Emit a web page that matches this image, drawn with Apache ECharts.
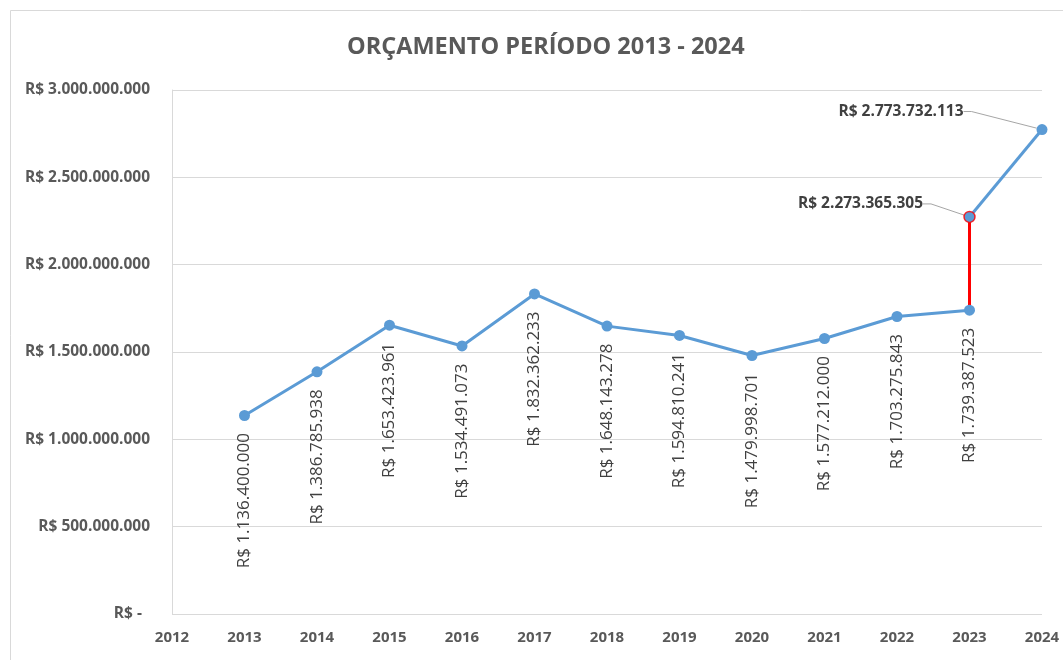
<!DOCTYPE html>
<html>
<head>
<meta charset="utf-8">
<script src="https://cdn.jsdelivr.net/npm/echarts@6/dist/echarts.min.js"></script>
<style>
  html, body { margin: 0; padding: 0; background: #fff; }
  #chart { width: 1063px; height: 660px; }
</style>
</head>
<body>
<div id="chart"></div>
<script>
// dados do orçamento
const years = [2013, 2014, 2015, 2016, 2017, 2018, 2019, 2020, 2021, 2022, 2023];
const values = [1136400000, 1386785938, 1653423961, 1534491073, 1832362233, 1648143278,
  1594810241, 1479998701, 1577212000, 1703275843, 1739387523];
const projYears = [2023, 2024];
const projValues = [2273365305, 2773732113];

const blue = "#5b9bd5";
const textGray = "#595959";

function fmt(v) {
  if (v === 0) return "R$ -  ";
  return "R$ " + String(Math.round(v)).replace(/\B(?=(\d{3})+(?!\d))/g, ".");
}

const chart = echarts.init(document.getElementById("chart"));
chart.setOption({
  animation: false,
  backgroundColor: "#fff",
  title: {
    text: "ORÇAMENTO PERÍODO 2013 - 2024",
    left: 342,
    top: 30,
    textStyle: {
      fontFamily: "Open Sans",
      fontWeight: "bold",
      fontSize: 23.5,
      color: textGray,
    },
  },
  graphic: [
    {
      type: "rect",
      shape: { x: 10.5, y: 10.5, width: 1100, height: 700 },
      style: { fill: "none", stroke: "#d9d9d9", lineWidth: 1 },
      silent: true,
    },
  ],
  grid: { left: 172, right: 21, top: 90, bottom: 46 },
  xAxis: {
    type: "value",
    min: 2012,
    max: 2024,
    interval: 1,
    axisLine: { show: false },
    axisTick: { show: false },
    splitLine: { show: false },
    axisLabel: {
      margin: 16,
      formatter: (v) => String(v),
      fontFamily: "Open Sans",
      fontWeight: "bold",
      fontSize: 15,
      color: textGray,
    },
  },
  yAxis: {
    type: "value",
    min: 0,
    max: 3000000000,
    interval: 500000000,
    axisLine: { show: true, lineStyle: { color: "#d9d9d9", width: 1 } },
    axisTick: { show: false },
    splitLine: { lineStyle: { color: "#d9d9d9", width: 1 } },
    axisLabel: {
      margin: 22,
      formatter: fmt,
      fontFamily: "Open Sans",
      fontWeight: "bold",
      fontSize: 15.5,
      color: textGray,
    },
  },
  series: [
    {
      // salto vermelho em 2023
      type: "line",
      data: [
        [projYears[0], values[values.length - 1]],
        [projYears[0], projValues[0]],
      ],
      symbol: "none",
      lineStyle: { color: "#ff0000", width: 3 },
      z: 2,
    },
    {
      type: "line",
      data: projYears.map((y, i) => [y, projValues[i]]),
      symbol: "circle",
      symbolSize: 11,
      lineStyle: { color: blue, width: 3 },
      itemStyle: { color: blue },
      label: {
        show: true,
        position: "left",
        distance: 5,
        formatter: (p) => fmt(p.value[1]),
        fontFamily: "Open Sans",
        fontWeight: "bold",
        fontSize: 15.5,
        color: "#404040",
      },
      labelLine: {
        show: true,
        length2: 8,
        lineStyle: { color: "#a6a6a6", width: 1 },
      },
      labelLayout: (params) => {
        if (params.dataIndex === 1) return { dx: -68, dy: -18 };
        return { dx: -36, dy: -13 };
      },
      z: 3,
    },
    {
      // marcador com contorno vermelho
      type: "scatter",
      data: [[projYears[0], projValues[0]]],
      symbol: "circle",
      symbolSize: 11,
      itemStyle: { color: blue, borderColor: "#ff0000", borderWidth: 1.5 },
      z: 4,
    },
    {
      type: "line",
      data: years.map((y, i) => [y, values[i]]),
      symbol: "circle",
      symbolSize: 11,
      lineStyle: { color: blue, width: 3 },
      itemStyle: { color: blue },
      label: {
        show: true,
        position: "bottom",
        distance: 12,
        rotate: 90,
        align: "right",
        verticalAlign: "middle",
        formatter: (p) => fmt(p.value[1]),
        fontFamily: "Open Sans",
        fontSize: 17,
        color: "#404040",
      },
      z: 3,
    },
  ],
});
</script>
</body>
</html>
